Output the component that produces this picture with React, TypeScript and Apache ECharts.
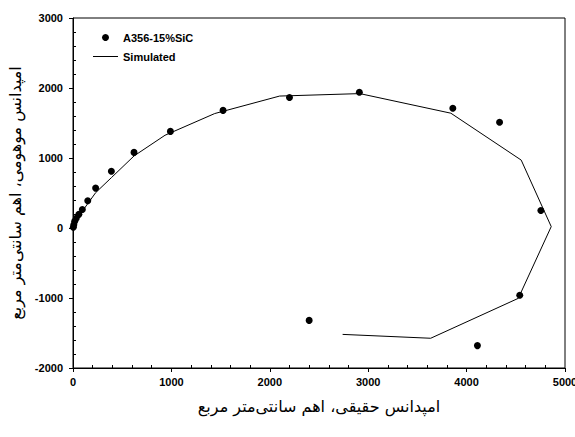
import React, { useEffect, useRef } from "react";
import * as echarts from "echarts";

// Measured impedance (Z', Z'') of A356-15%SiC, ohm·cm²
const measuredRe = [3, 8, 17, 33, 60, 95, 150, 230, 390, 620, 990, 1525, 2200, 2910, 3860, 4335, 4755, 4540, 4110, 2400];
const measuredIm = [12, 45, 95, 140, 195, 265, 390, 570, 810, 1080, 1380, 1680, 1865, 1940, 1710, 1510, 250, -960, -1680, -1320];

// Simulated (fitted) impedance curve
const simRe = [0, 5, 20, 50, 100, 231, 390, 620, 935, 1440, 2100, 2915, 3840, 4555, 4860, 4525, 3635, 2740];
const simIm = [0, 30, 80, 150, 250, 506, 719, 1029, 1325, 1635, 1885, 1920, 1640, 970, 20, -1005, -1575, -1520];

const seriesNames = ["A356-15%SiC", "Simulated"];
const xTitle = "امپدانس حقیقی، اهم سانتی‌متر مربع";
const yTitle = "امپدانس موهومی، اهم سانتی‌متر مربع";

const X_MIN = 0, X_MAX = 5000, X_STEP = 1000;
const Y_MIN = -2000, Y_MAX = 3000, Y_STEP = 1000;

export default function App() {
  const ref = useRef<HTMLDivElement>(null);

  useEffect(() => {
    if (!ref.current) return;
    const chart = echarts.init(ref.current, null, { renderer: "svg" });
    const tickFont = {
      fontFamily: "'Liberation Sans', Arial, sans-serif",
      fontWeight: "bold" as const,
      fontSize: 11,
      color: "#000",
    };
    const titleFont = {
      fontFamily: "'DejaVu Sans', serif",
      fontSize: 16,
      color: "#000",
      fontWeight: "normal" as const,
    };
    const black = { color: "#000", width: 1 };
    const plain = (v: number) => String(v);

    chart.setOption({
      animation: false,
      backgroundColor: "#fff",
      grid: {
        left: 73,
        right: 10,
        top: 18,
        bottom: 69,
        containLabel: false,
        outerBoundsMode: "none",
        show: true,
        borderColor: "#000",
        borderWidth: 1,
      },
      legend: {
        orient: "vertical",
        left: 93,
        top: 32,
        padding: 0,
        itemWidth: 25,
        itemHeight: 7,
        itemGap: 8,
        textStyle: { ...tickFont, fontSize: 11 },
        data: [
          { name: seriesNames[0], icon: "circle", itemStyle: { color: "#000", opacity: 1 } },
          { name: seriesNames[1], icon: "path://M0,0 L25,0 L25,1 L0,1 Z", itemStyle: { color: "#000" } },
        ],
      },
      xAxis: [
        {
          type: "value",
          position: "bottom",
          min: X_MIN,
          max: X_MAX,
          interval: X_STEP,
          name: xTitle,
          nameLocation: "middle",
          nameGap: 30,
          nameTextStyle: titleFont,
          axisLine: { show: true, onZero: false, lineStyle: black },
          axisTick: { show: true, inside: false, length: 4, lineStyle: black },
          axisLabel: { ...tickFont, margin: 8, formatter: plain },
          splitLine: { show: false },
        },
        {
          type: "value",
          position: "bottom",
          min: X_MIN,
          max: X_MAX,
          interval: X_STEP,
          axisLine: { show: false, onZero: false },
          axisTick: { show: false, inside: true },
          minorTick: { show: true, splitNumber: 5, length: 3, lineStyle: black },
          axisLabel: { show: false },
          splitLine: { show: false },
        },
      ],
      yAxis: [
        {
          type: "value",
          position: "left",
          min: Y_MIN,
          max: Y_MAX,
          interval: Y_STEP,
          name: yTitle,
          nameLocation: "middle",
          nameGap: 35,
          nameTextStyle: titleFont,
          axisLine: { show: true, onZero: false, lineStyle: black },
          axisTick: { show: true, inside: false, length: 4, lineStyle: black },
          axisLabel: { ...tickFont, margin: 10, formatter: plain },
          splitLine: { show: false },
        },
        {
          type: "value",
          position: "left",
          min: Y_MIN,
          max: Y_MAX,
          interval: Y_STEP,
          axisLine: { show: false, onZero: false },
          axisTick: { show: false, inside: true },
          minorTick: { show: true, splitNumber: 5, length: 3, lineStyle: black },
          axisLabel: { show: false },
          splitLine: { show: false },
        },
      ],
      series: [
        {
          name: seriesNames[1],
          type: "line",
          xAxisIndex: 0,
          yAxisIndex: 0,
          data: simRe.map((x, i) => [x, simIm[i]]),
          symbol: "none",
          lineStyle: { color: "#000", width: 1 },
          itemStyle: { color: "#000" },
          z: 2,
        },
        {
          name: seriesNames[0],
          type: "scatter",
          xAxisIndex: 0,
          yAxisIndex: 0,
          data: measuredRe.map((x, i) => [x, measuredIm[i]]),
          symbol: "circle",
          symbolSize: 7,
          itemStyle: { color: "#000", opacity: 1 },
          z: 3,
        },
      ],
    });

    return () => chart.dispose();
  }, []);

  return (
    <div
      ref={ref}
      style={{ position: "fixed", left: 0, top: 0, width: 575, height: 437 }}
    />
  );
}
